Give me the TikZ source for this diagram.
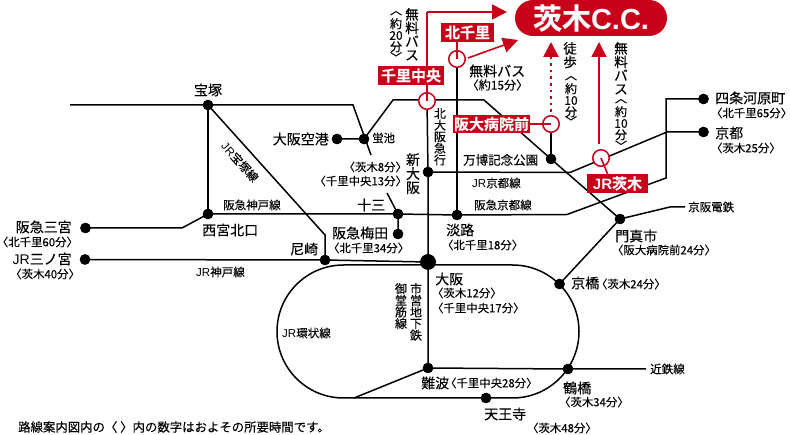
\documentclass[tikz,border=0pt]{standalone}
\usepackage{fontspec}
\usetikzlibrary{arrows.meta}
\setmainfont[FakeBold=0.12]{Noto Sans CJK JP}
\newfontfamily\boldf[FakeBold=0.2]{Noto Sans CJK JP Bold}
\newfontfamily\medf[FakeBold=0.35]{Noto Sans CJK JP}
\newfontfamily\latf{Liberation Sans}
\newcommand{\lb}{\makebox[.55em][r]{〈}}
\newcommand{\rb}{\makebox[.55em][l]{〉}}
\newcommand{\vlb}{\makebox[.5em][r]{〈}}
\newcommand{\vrb}{\makebox[.5em][l]{〉}}
\definecolor{redc}{RGB}{200,0,25}
\tikzset{
  rail/.style={draw=black,line width=1.5pt,line join=miter},
  dot/.style={circle,fill=black,inner sep=0pt,minimum size=10.5pt},
  bigdot/.style={circle,fill=black,inner sep=0pt,minimum size=15.5pt},
  ring/.style={circle,draw=redc,fill=white,line width=1.5pt,inner sep=0pt,minimum size=16.5pt},
  redbox/.style={rectangle,fill=redc,text=white,inner sep=0pt,font=\fontsize{15}{15}\boldf},
  redline/.style={draw=redc,line width=1.6pt},
  tipstyle/.style={-{Triangle[length=15pt,width=15pt]}},
  redarrow/.style={draw=redc,line width=1.6pt,tipstyle},
  stn/.style={inner sep=0pt,font=\fontsize{14}{14}\selectfont},
  tim/.style={inner sep=0pt,font=\fontsize{11.4}{11.4}\selectfont},
  lin/.style={inner sep=0pt,font=\fontsize{11.5}{11.5}\selectfont},
  vstn/.style={inner sep=0pt,align=center,anchor=north,font=\fontsize{14}{14}\selectfont},
  vlin/.style={inner sep=0pt,align=center,anchor=north,font=\fontsize{12}{11.6}\selectfont},
  vbus/.style={inner sep=0pt,align=center,anchor=north,font=\fontsize{13.5}{13.5}\medf},
  vtim/.style={inner sep=0pt,align=center,anchor=north,font=\fontsize{12}{11.5}\medf},
  vbrk/.style={inner sep=0pt,rotate=-90,font=\fontsize{12}{12}\medf},
}
\begin{document}
\begin{tikzpicture}[x=1pt,y=-1pt]
\useasboundingbox (0,0) rectangle (790,435);
% corner coordinates
\coordinate (hkwest) at (70,105);
\coordinate (hkbend) at (353,105);
\coordinate (hkend) at (371,155);
\coordinate (hkstub) at (387,193);
\coordinate (moa) at (393,100);
\coordinate (mob) at (484,100);
\coordinate (ktop) at (427,100);
\coordinate (jrk1) at (570,172.5);
\coordinate (jrk2) at (667,132);
\coordinate (hq1) at (567,214.5);
\coordinate (hq2) at (666,178);
\coordinate (hq3) at (666,99);
\coordinate (sb) at (182,228);
\coordinate (jt) at (325,235);
\coordinate (ke1) at (670,207);
\coordinate (ke2) at (685,207);
\coordinate (kin) at (646,369);
\coordinate (nl) at (354,398);
% stations
\node[dot] (takarazuka) at (208,105) {};
\node[dot] (itami) at (337,139) {};
\node[dot] (hotaru) at (364,139) {};
\node[dot] (shinosaka) at (428,172) {};
\node[dot] (juso) at (398,214) {};
\node[dot] (umeda) at (398,234) {};
\node[dot] (awaji) at (457,215) {};
\node[dot] (banpaku) at (551,159) {};
\node[dot] (kadoma) at (620,219) {};
\node[dot] (kyobashi) at (559.5,284) {};
\node[dot] (nishinomiya) at (208,214) {};
\node[dot] (hsan) at (85.5,228) {};
\node[dot] (jsan) at (85,259.5) {};
\node[dot] (amagasaki) at (325,260) {};
\node[dot] (namba) at (428,368) {};
\node[dot] (tennoji) at (486,398) {};
\node[dot] (tsuruhashi) at (568,369) {};
\node[dot] (kyoto) at (703.5,132) {};
\node[dot] (shijo) at (703.5,99) {};
\node[bigdot] (osaka) at (428,262) {};
% rails
\draw[rail] (hkwest) -- (takarazuka.center) -- (hkbend) -- (hkend);
\draw[rail] (hkstub) -- (juso.center) -- (umeda.center);
\draw[rail] (itami.center) -- (hotaru.center) -- (moa) -- (mob) -- (banpaku.center) -- (kadoma.center) -- (kyobashi.center);
\draw[rail] (takarazuka.center) -- (nishinomiya.center);
\draw[rail] (takarazuka.center) -- (jt) -- (amagasaki.center);
\draw[rail] (hsan.center) -- (sb) -- (nishinomiya.center);
\draw[rail] (nishinomiya.center) -- (juso.center) -- (awaji.center) -- (hq1) -- (hq2) -- (hq3) -- (shijo.center);
\draw[rail] (shinosaka.center) -- (jrk1) -- (jrk2) -- (kyoto.center);
\draw[rail] (jsan.center) -- (amagasaki.center) -- (osaka.center);
\draw[rail] (ktop) -- (shinosaka.center) -- (osaka.center) -- (namba.center);
\draw[rail] (namba.center) -- (tsuruhashi.center) -- (kin);
\draw[rail] (namba.center) -- (nl);
\draw[rail] (kadoma.center) -- (ke1) -- (ke2);
\draw[rail,rounded corners=66.5pt] (277,265) rectangle (579,398);
% redraw dots over rails
\foreach \n in {takarazuka,itami,hotaru,shinosaka,juso,umeda,awaji,banpaku,kadoma,kyobashi,nishinomiya,hsan,jsan,amagasaki,namba,tennoji,tsuruhashi,kyoto,shijo}
  \fill (\n) circle (5.2pt);
\fill (osaka) circle (7.8pt);
% Kita-Senri line
\node[ring] (kitasenri) at (457,59) {};
\draw[rail] (kitasenri) -- (awaji.center);
\draw[rail] (banpaku.center) -- (551,133);
% goal
\node[rectangle,rounded corners=18pt,fill=redc,text=white,minimum width=152pt,minimum height=36pt,inner sep=0pt,font=\fontsize{29}{29}\boldf] (goal) at (591,18) {茨木{\latf\bfseries C.C.}};
% rings and boxes
\node[ring] (senri) at (427,101) {};
\node[ring] (handai) at (551,124) {};
\node[ring] (jribaraki) at (601,158) {};
\node[redbox,minimum width=53pt,minimum height=19pt] (bk) at (467.5,32.5) {北千里};
\node[redbox,minimum width=66pt,minimum height=19pt] (bs) at (411,75.5) {千里中央};
\node[redbox,minimum width=77pt,minimum height=18pt] (bh) at (491.5,124) {阪大病院前};
\node[redbox,minimum width=61pt,minimum height=19pt] (bj) at (617.5,183.5) {{\latf\bfseries JR}茨木};
\draw[redline] (bk.south -| kitasenri) -- (kitasenri.center);
\draw[redline] (bs.south -| senri) -- (senri.center);
\draw[redline] (bh.east) -- (handai.center);
\draw[redline] (608,175) -- (jribaraki.center);
% arrows
\coordinate (corner) at (427,12);
\coordinate (tipa) at (507,12);
\coordinate (tipb) at (518,40);
\coordinate (tailb) at (468,58);
\coordinate (tipc) at (551,42);
\coordinate (tipd) at (599,42);
\coordinate (taild) at (599,144);
\coordinate (tailc) at (551,112);
\draw[redline] (bs.north -| corner) -- (corner);
\draw[redarrow] (corner) -- (tipa);
\draw[redarrow] (tailb) -- (tipb);
\draw[draw=redc,line width=2.6pt,dash pattern=on 2.6pt off 4pt,tipstyle] (tailc) -- (tipc);
\draw[redarrow] (taild) -- (tipd);
% text
\node[stn] (t1) at (208,90) {宝塚};
\node[stn,anchor=east] (t2) at (329,139) {大阪空港};
\node[tim,anchor=west] (t3) at (372,138) {蛍池};
\node[tim,anchor=east] (t4) at (402,167) {\lb 茨木8分\rb};
\node[tim,anchor=east] (t5) at (402,181) {\lb 千里中央13分\rb};
\node[vstn] (t6) at (413,153) {新\\大\\阪};
\node[stn,anchor=west] (t7) at (357,205) {十三};
\node[stn,anchor=west] (t8) at (332,233) {阪急梅田};
\node[tim,anchor=west] (t9) at (333,248) {\lb 北千里34分\rb};
\node[stn,anchor=west] (t10) at (446,230) {淡路};
\node[tim,anchor=west] (t11) at (447,245) {\lb 北千里18分\rb};
\node[tim,font=\fontsize{12.5}{12.5}\selectfont,anchor=west] (t12) at (463,160) {万博記念公園};
\node[lin,anchor=west] (t13) at (472,183) {{\latf JR}京都線};
\node[lin,anchor=west] (t14) at (474,205) {阪急京都線};
\node[vlin] (t15) at (440,108) {北\\大\\阪\\急\\行};
\node[vbus] (t16) at (412,8) {無\\料\\バ\\ス};
\node[vbrk] (b17a) at (396,13) {\vlb};
\node[vtim] (t17) at (396,18) {約\\20\\分};
\node[vbrk] (b17b) at (396,54.5) {\vrb};
\node[inner sep=0pt,anchor=west,font=\fontsize{14}{14}\medf] (t18) at (469,71) {無料バス};
\node[inner sep=0pt,anchor=west,font=\fontsize{12}{12}\medf] (t19) at (472,85) {\lb 約15分\rb};
\node[vbus] (t20) at (570,42) {徒\\歩};
\node[vbrk] (b21a) at (571,78) {\vlb};
\node[vtim] (t21) at (571,83) {約\\10\\分};
\node[vbrk] (b21b) at (571,118.5) {\vrb};
\node[vbus] (t22) at (621,42) {無\\料\\バ\\ス};
\node[vbrk] (b23a) at (621,101) {\vlb};
\node[vtim] (t23) at (621,106) {約\\10\\分};
\node[vbrk] (b23b) at (621,143) {\vrb};
\node[stn,anchor=east] (t24) at (72,227) {阪急三宮};
\node[tim,anchor=east] (t25) at (73,242) {\lb 北千里60分\rb};
\node[stn,anchor=east] (t26) at (72,259) {{\latf JR}三ノ宮};
\node[tim,anchor=east] (t27) at (75,274) {\lb 茨木40分\rb};
\node[stn,anchor=west] (t28) at (202,230) {西宮北口};
\node[stn,anchor=west] (t29) at (290,249) {尼崎};
\node[lin,anchor=west] (t30) at (196,272) {{\latf JR}神戸線};
\node[lin,anchor=west] (t31) at (223,205) {阪急神戸線};
\node[lin,rotate=-48] (t32) at (240,162) {{\latf JR}宝塚線};
\node[lin,anchor=west] (t33) at (282,333) {{\latf JR}環状線};
\node[vlin] (t34) at (416,283) {市\\営\\地\\下\\鉄};
\node[vlin] (t35) at (401,283) {御\\堂\\筋\\線};
\node[stn,anchor=west] (t36) at (435,279) {大阪};
\node[tim,anchor=west] (t37) at (437,293) {\lb 茨木12分\rb};
\node[tim,anchor=west] (t38) at (437,308) {\lb 千里中央17分\rb};
\node[stn,anchor=west] (t39) at (421,383) {難波};
\node[tim,anchor=west] (t40) at (450,383) {\lb 千里中央28分\rb};
\node[stn,anchor=west] (t41) at (484,414) {天王寺};
\node[tim,anchor=west] (t42) at (532,428) {\lb 茨木48分\rb};
\node[stn,anchor=west] (t43) at (563,388) {鶴橋};
\node[tim,anchor=west] (t44) at (564,402) {\lb 茨木34分\rb};
\node[lin,anchor=west] (t45) at (650,369) {近鉄線};
\node[stn,anchor=west] (t46) at (571,283) {京橋};
\node[tim,anchor=west] (t47) at (601,284) {\lb 茨木24分\rb};
\node[stn,anchor=west] (t48) at (615,236) {門真市};
\node[tim,anchor=west] (t49) at (617,250) {\lb 阪大病院前24分\rb};
\node[lin,anchor=west] (t50) at (688,207) {京阪電鉄};
\node[stn,anchor=west] (t51) at (715,98) {四条河原町};
\node[tim,anchor=west] (t52) at (716,113) {\lb 北千里65分\rb};
\node[stn,anchor=west] (t53) at (715,133) {京都};
\node[tim,anchor=west] (t54) at (716,148) {\lb 茨木25分\rb};
\node[inner sep=0pt,anchor=west,font=\fontsize{12.4}{12.4}\selectfont] (note) at (18,427) {路線案内図内の〈 〉内の数字はおよその所要時間です。};
\end{tikzpicture}
\end{document}
